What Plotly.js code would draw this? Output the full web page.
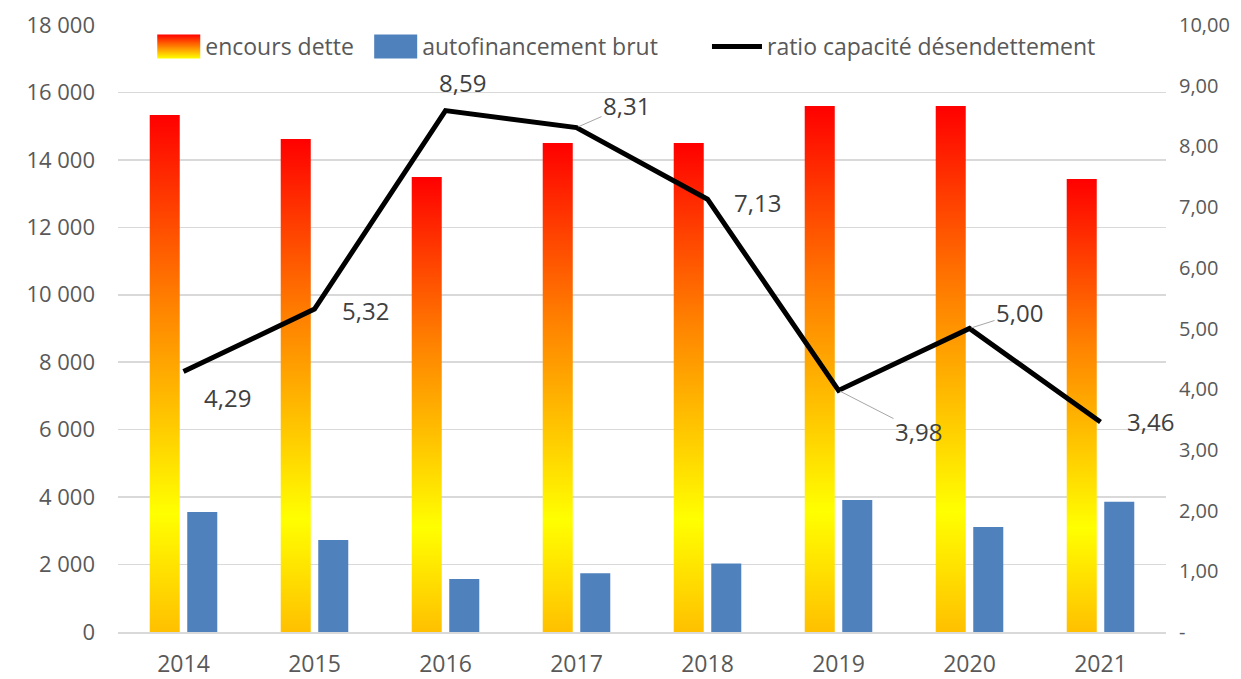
<!DOCTYPE html>
<html>
<head>
<meta charset="utf-8">
<script src="https://cdn.plot.ly/plotly-3.0.1.min.js"></script>
<style>
html,body{margin:0;padding:0;background:#fff;}
#chart{width:1241px;height:679px;}
</style>
</head>
<body>
<div id="chart"></div>
<script>
// ---- data ----
const years = ["2014","2015","2016","2017","2018","2019","2020","2021"];
const encoursDette = [15330, 14620, 13490, 14500, 14500, 15600, 15600, 13430];
const autofinancementBrut = [3560, 2730, 1570, 1740, 2030, 3915, 3110, 3860];
const ratioCapacite = [4.29, 5.32, 8.59, 8.31, 7.13, 3.98, 5.00, 3.46];
const seriesNames = ["encours dette", "autofinancement brut", "ratio capacité désendettement"];
const leftTicks = [0, 2000, 4000, 6000, 8000, 10000, 12000, 14000, 16000, 18000];
const rightTicks = [0, 1, 2, 3, 4, 5, 6, 7, 8, 9, 10];
const rightTickText = ["-", "1,00", "2,00", "3,00", "4,00", "5,00", "6,00", "7,00", "8,00", "9,00", "10,00"];

// ---- label placement (pixel offsets, styling only) ----
const labelDx = [44, 51, 17, 50, 50, 80, 50, 50];
const labelDy = [26, 1, -28, -22, 3, 41, -16, 0];
const labelLeader = [false, false, false, true, false, true, true, false];
// legend entry left positions (paper fraction, styling only)
const legendX = [0.026, 0.233, 0.562];

const fmt = v => v.toFixed(2).replace('.', ',');
const FONT = '"Open Sans", "Liberation Sans", sans-serif';

const traces = [
  {
    type: 'bar', name: seriesNames[0], x: years, y: encoursDette, legend: 'legend',
    marker: {color: '#FF8000', line: {width: 0}}, yaxis: 'y', hoverinfo: 'skip'
  },
  {
    type: 'bar', name: seriesNames[1], x: years, y: autofinancementBrut, legend: 'legend2',
    marker: {color: '#4F81BD', line: {width: 0}}, yaxis: 'y', hoverinfo: 'skip'
  },
  {
    type: 'scatter', mode: 'lines', name: seriesNames[2], x: years, y: ratioCapacite, legend: 'legend3',
    line: {color: '#000000', width: 5}, yaxis: 'y2', hoverinfo: 'skip'
  }
];

const annotations = ratioCapacite.map((v, i) => {
  const a = {
    x: i, y: v, xref: 'x', yref: 'y2', text: fmt(v),
    font: {family: FONT, size: 24, color: '#404040'}
  };
  if (labelLeader[i]) {
    a.showarrow = true; a.arrowhead = 0; a.arrowwidth = 1; a.arrowcolor = '#A6A6A6';
    a.ax = labelDx[i]; a.ay = labelDy[i]; a.standoff = 2;
  } else {
    a.showarrow = false; a.xshift = labelDx[i]; a.yshift = -labelDy[i];
  }
  return a;
});

function legendDef(x) {
  return {
    orientation: 'h', x: x, xanchor: 'left', y: 1, yanchor: 'top',
    font: {family: FONT, size: 23, color: '#595959'}, bgcolor: 'rgba(0,0,0,0)',
    itemwidth: 50
  };
}

const layout = {
  width: 1241, height: 679,
  margin: {l: 118, r: 75, t: 25, b: 47, pad: 0},
  paper_bgcolor: '#ffffff', plot_bgcolor: '#ffffff',
  separators: ', ',
  font: {family: FONT, color: '#595959', size: 22},
  barmode: 'group', bargap: 0.427, bargroupgap: 0.2,
  showlegend: true,
  legend: legendDef(legendX[0]),
  legend2: legendDef(legendX[1]),
  legend3: legendDef(legendX[2]),
  xaxis: {
    type: 'category', range: [-0.5, years.length - 0.5], showgrid: false, showline: true,
    linecolor: '#D9D9D9', linewidth: 2,
    ticks: '', tickfont: {family: FONT, size: 23, color: '#595959'}, ticklabelstandoff: 10,
    fixedrange: true
  },
  yaxis: {
    range: [0, 18000], tickvals: leftTicks, tickformat: ',d', showgrid: true,
    gridcolor: '#D9D9D9', gridwidth: 1.5, zeroline: false, showline: false, ticks: '',
    tickfont: {family: FONT, size: 22, color: '#595959'}, ticklabelstandoff: 22,
    fixedrange: true
  },
  yaxis2: {
    overlaying: 'y', side: 'right', range: [0, 10], tickvals: rightTicks, ticktext: rightTickText,
    showgrid: false, zeroline: false, showline: false, ticks: '',
    tickfont: {family: FONT, size: 20, color: '#595959'}, ticklabelstandoff: 12,
    fixedrange: true
  },
  annotations: annotations
};

const ns = 'http://www.w3.org/2000/svg';
function decorate(gd) {
  const svg = gd.querySelector('.main-svg');
  let defs = svg.querySelector('defs');
  if (!defs) { defs = document.createElementNS(ns, 'defs'); svg.insertBefore(defs, svg.firstChild); }
  function addGrad(id, stops) {
    if (defs.querySelector('#' + id)) return;
    const g = document.createElementNS(ns, 'linearGradient');
    g.setAttribute('id', id);
    g.setAttribute('x1', '0'); g.setAttribute('y1', '0');
    g.setAttribute('x2', '0'); g.setAttribute('y2', '1');
    stops.forEach(s => {
      const st = document.createElementNS(ns, 'stop');
      st.setAttribute('offset', s[0]); st.setAttribute('stop-color', s[1]);
      g.appendChild(st);
    });
    defs.appendChild(g);
  }
  addGrad('encGrad', [[0, '#FF0000'], [0.36, '#FF8000'], [0.77, '#FFFF00'], [1, '#FFC000']]);
  addGrad('encGradLeg', [[0, '#FF0000'], [1, '#FFFF00']]);
  const barTraces = gd.querySelectorAll('.barlayer .trace.bars');
  if (barTraces.length) {
    barTraces[0].querySelectorAll('path').forEach(p => { p.style.fill = 'url(#encGrad)'; });
  }
  gd.querySelectorAll('g.legendpoints').forEach(lp => {
    const it = lp.closest('.traces');
    const tn = it ? it.querySelector('text.legendtext') : null;
    const txt = tn ? tn.textContent : '';
    lp.querySelectorAll('path').forEach(bp => {
      const d = bp.getAttribute('d') || '';
      if (d.indexOf('V') >= 0 || d.indexOf('H') >= 0) {
        bp.setAttribute('d', 'M25,12H-18V-12H25Z');
        bp.style.strokeWidth = '0';
        if (txt === seriesNames[0]) bp.style.fill = 'url(#encGradLeg)';
      } else if (d.indexOf('h') >= 0) {
        bp.setAttribute('d', 'M8,0h48');
        bp.style.strokeLinecap = 'round';
      }
    });
  });
}

Plotly.newPlot('chart', traces, layout, {displayModeBar: false, staticPlot: true}).then(gd => {
  decorate(gd);
  gd.on('plotly_afterplot', () => decorate(gd));
  setTimeout(() => decorate(gd), 50);
});
</script>
</body>
</html>
